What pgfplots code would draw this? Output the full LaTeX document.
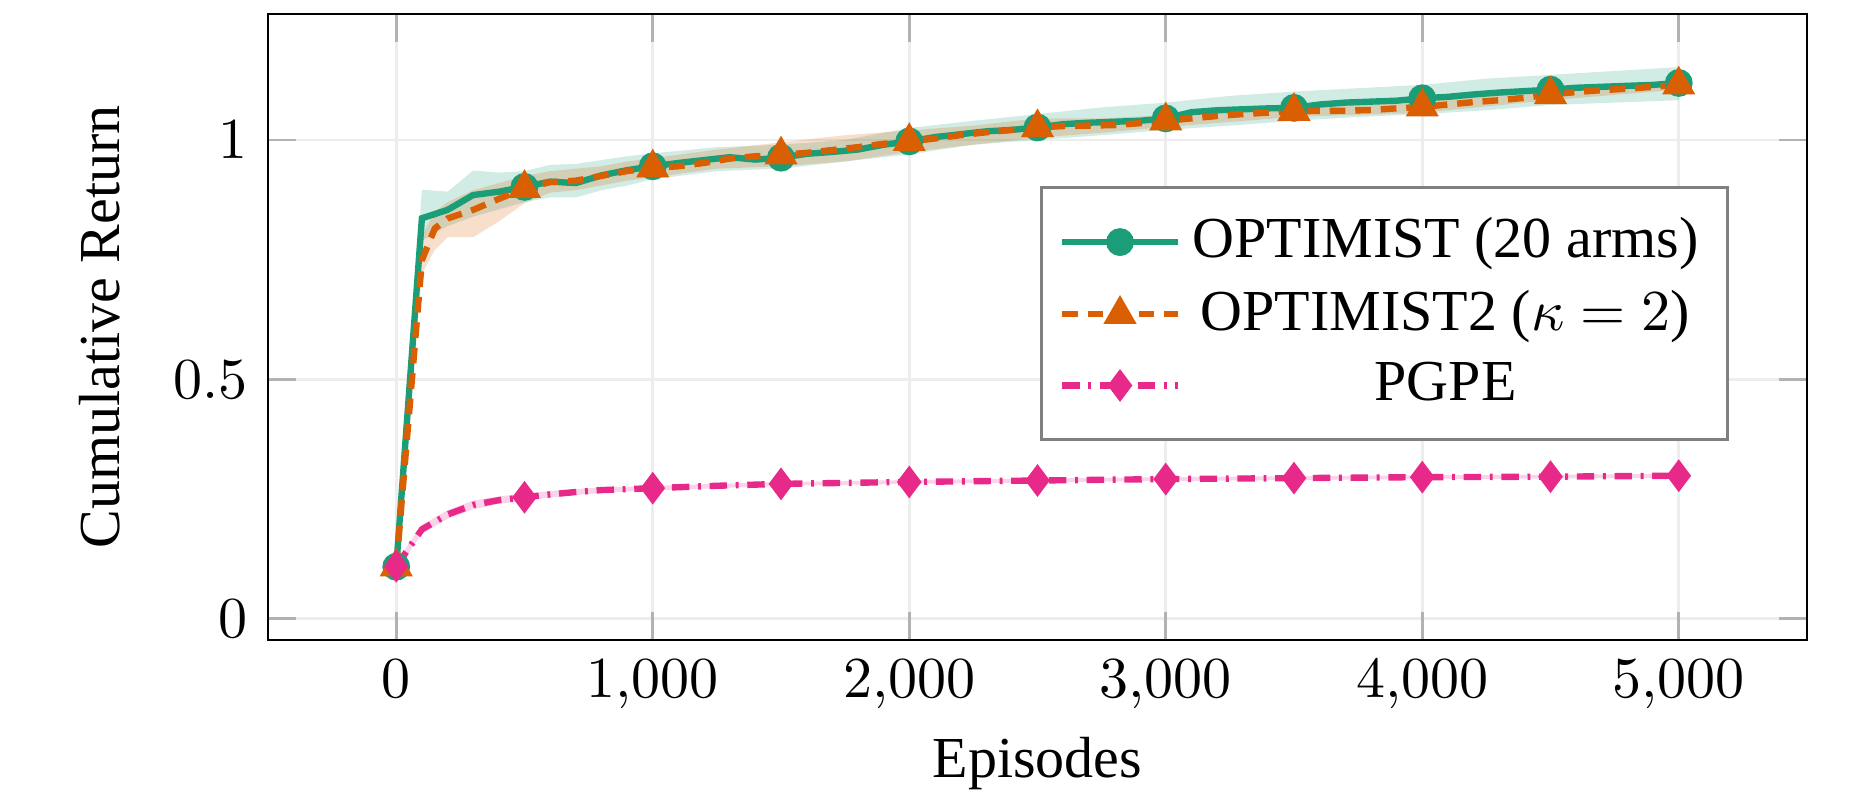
\documentclass[border=0pt]{standalone}
\usepackage{fontspec}
\setmainfont{Liberation Serif}
\usepackage{pgfplots}
\pgfplotsset{compat=1.18}
\definecolor{dkgreen}{HTML}{1B9E77}
\definecolor{orng}{HTML}{D95F02}
\definecolor{pnk}{HTML}{E7298A}
\begin{document}
\begin{tikzpicture}
\begin{axis}[
  scale only axis,
  width=265.3pt, height=107.9pt,
  xmin=-500, xmax=5500, ymin=-0.0438, ymax=1.263,
  xtick={0,1000,2000,3000,4000,5000},
  ytick={0,0.5,1},
  scaled x ticks=false,
  grid=major,
  major grid style={line width=0.5pt, black!7},
  major tick length=4.8pt,
  every tick/.style={black!30, line width=0.5pt},
  axis line style={black},
  xlabel={Episodes},
  ylabel={Cumulative Return},
  every axis x label/.style={at={(axis description cs:0.5,0)}, anchor=base, yshift=-23.8pt},
  every axis y label/.style={at={(axis description cs:0,0.5)}, rotate=90, anchor=center, yshift=29pt},
  title={(\hspace{38pt})},
  title style={at={(axis description cs:0.574,1)}, anchor=base, yshift=3.1pt},
  legend style={at={(0.9493,0.7252)}, anchor=north east, draw=black!50, line width=0.5pt, cells={anchor=center}, inner ysep=3.2pt},
  legend image code/.code={\draw[mark repeat=2,mark phase=2,#1] plot coordinates {(0cm,0cm) (0.35cm,0cm) (0.7cm,0cm)};},
  legend image post style={mark indices={2}},
]
% ---- bands ----
\addplot[forget plot, draw=none, fill=dkgreen, fill opacity=0.2] coordinates {
(0,0.10)(100,0.79)(200,0.82)(300,0.84)(400,0.855)(500,0.87)(600,0.88)(700,0.88)(800,0.895)(900,0.905)(1000,0.918)
(1250,0.935)(1500,0.94)(1750,0.955)(2000,0.97)(2250,0.99)(2500,1.0)(2750,1.01)(3000,1.021)(3250,1.03)(3500,1.04)
(3750,1.048)(4000,1.054)(4250,1.062)(4500,1.073)(4750,1.078)(5000,1.083)
(5000,1.152)(4750,1.144)(4500,1.136)(4250,1.128)(4000,1.115)(3750,1.108)(3500,1.101)(3250,1.092)(3000,1.078)
(2750,1.068)(2500,1.054)(2250,1.04)(2000,1.025)(1750,1.0)(1500,0.99)(1250,0.985)(1000,0.972)(900,0.966)(800,0.958)
(700,0.95)(600,0.948)(500,0.935)(400,0.932)(300,0.936)(200,0.892)(100,0.896)(0,0.12)
} -- cycle;
\addplot[forget plot, draw=none, fill=orng, fill opacity=0.2] coordinates {
(0,0.10)(100,0.72)(150,0.77)(200,0.797)(300,0.797)(400,0.83)(500,0.868)(600,0.89)(700,0.895)(800,0.905)(900,0.915)(1000,0.922)
(1250,0.94)(1500,0.945)(1750,0.955)(2000,0.975)(2250,0.99)(2500,1.005)(2750,1.015)(3000,1.027)(3500,1.048)(4000,1.057)(4500,1.083)(5000,1.105)
(5000,1.125)(4500,1.105)(4000,1.08)(3500,1.07)(3000,1.052)(2750,1.045)(2500,1.045)(2250,1.03)(2000,1.02)(1750,1.01)(1500,0.995)(1250,0.98)
(1000,0.962)(900,0.955)(800,0.945)(700,0.94)(600,0.935)(500,0.925)(400,0.91)(300,0.895)(200,0.87)(150,0.85)(100,0.80)(0,0.12)
} -- cycle;
\addplot[forget plot, draw=none, fill=pnk, fill opacity=0.2] coordinates {
(0,0.100)(100,0.178)(200,0.209)(300,0.229)(400,0.240)(500,0.247)(600,0.253)(700,0.259)(800,0.263)(900,0.266)(1000,0.268)
(1500,0.278)(2000,0.282)(2500,0.285)(3000,0.288)(3500,0.290)(4000,0.292)(4500,0.293)(5000,0.295)
(5000,0.303)(4500,0.301)(4000,0.300)(3500,0.298)(3000,0.296)(2500,0.293)(2000,0.290)(1500,0.286)
(1000,0.278)(900,0.276)(800,0.275)(700,0.271)(600,0.267)(500,0.261)(400,0.256)(300,0.247)(200,0.227)(100,0.196)(0,0.120)
} -- cycle;
% ---- OPTIMIST ----
\addplot[dkgreen, line width=1.1pt, mark=*, mark size=2.2pt,
  mark indices={1,6,11,16,21,26,31,36,41,46,51},
  mark options={solid, fill=dkgreen, draw=dkgreen, line width=0.4pt}] coordinates {
(0,0.109)(100,0.8365)(200,0.854)(300,0.885)(400,0.892)(500,0.902)(600,0.913)(700,0.910)(800,0.926)(900,0.937)
(1000,0.945)(1100,0.952)(1200,0.958)(1300,0.964)(1400,0.959)(1500,0.963)(1600,0.971)(1700,0.975)(1800,0.980)(1900,0.990)
(2000,0.997)(2100,1.006)(2200,1.012)(2300,1.018)(2400,1.021)(2500,1.026)(2600,1.033)(2700,1.036)(2800,1.038)(2900,1.040)
(3000,1.045)(3100,1.058)(3200,1.062)(3300,1.064)(3400,1.066)(3500,1.067)(3600,1.074)(3700,1.078)(3800,1.080)(3900,1.082)
(4000,1.087)(4100,1.090)(4200,1.095)(4300,1.099)(4400,1.102)(4500,1.105)(4600,1.109)(4700,1.111)(4800,1.113)(4900,1.115)
(5000,1.119)
};
\addlegendentry{OPTIMIST (20 arms)}
% ---- OPTIMIST2 ----
\addplot[orng, line width=1.1pt, dash pattern=on 2.7pt off 1.7pt, mark=triangle*, mark size=2.9pt,
  mark indices={1,7,12,17,22,27,32,37,42,47,52},
  mark options={solid, fill=orng, draw=orng, line width=0.4pt}] coordinates {
(0,0.109)(100,0.749)(150,0.815)(200,0.836)(300,0.854)(400,0.877)(500,0.899)(600,0.912)(700,0.915)(800,0.925)(900,0.935)
(1000,0.942)(1100,0.945)(1200,0.952)(1300,0.961)(1400,0.966)(1500,0.969)(1600,0.973)(1700,0.979)(1800,0.985)(1900,0.992)
(2000,0.997)(2100,1.003)(2200,1.010)(2300,1.016)(2400,1.021)(2500,1.026)(2600,1.029)(2700,1.030)(2800,1.031)(2900,1.035)
(3000,1.040)(3100,1.045)(3200,1.050)(3300,1.054)(3400,1.057)(3500,1.060)(3600,1.0605)(3700,1.061)(3800,1.0625)(3900,1.066)
(4000,1.069)(4100,1.074)(4200,1.079)(4300,1.083)(4400,1.088)(4500,1.095)(4600,1.100)(4700,1.104)(4800,1.107)(4900,1.111)
(5000,1.115)
};
\addlegendentry{OPTIMIST2 ($\kappa=2$)}
% ---- PGPE ----
\addplot[pnk, line width=1.1pt, dash pattern=on 3pt off 1.5pt on 0.5pt off 1.5pt, mark=diamond*, mark size=2.5pt,
  mark indices={1,6,11,13,15,17,19,21,23,25,27},
  mark options={solid, fill=pnk, draw=pnk, line width=0.4pt}] coordinates {
(0,0.110)(100,0.187)(200,0.218)(300,0.238)(400,0.248)(500,0.254)(600,0.260)(700,0.265)(800,0.269)(900,0.271)(1000,0.273)
(1250,0.278)(1500,0.282)(1750,0.284)(2000,0.286)(2250,0.2875)(2500,0.289)(2750,0.2905)(3000,0.292)(3250,0.293)(3500,0.294)
(3750,0.295)(4000,0.296)(4250,0.2965)(4500,0.297)(4750,0.298)(5000,0.299)
};
\addlegendentry{PGPE}
\end{axis}
\pgfresetboundingbox
\path[use as bounding box] ([xshift=-46.2pt,yshift=-26.03pt]current axis.south west) rectangle ([xshift=9.14pt,yshift=2.41pt]current axis.north east);
\end{tikzpicture}
\end{document}
